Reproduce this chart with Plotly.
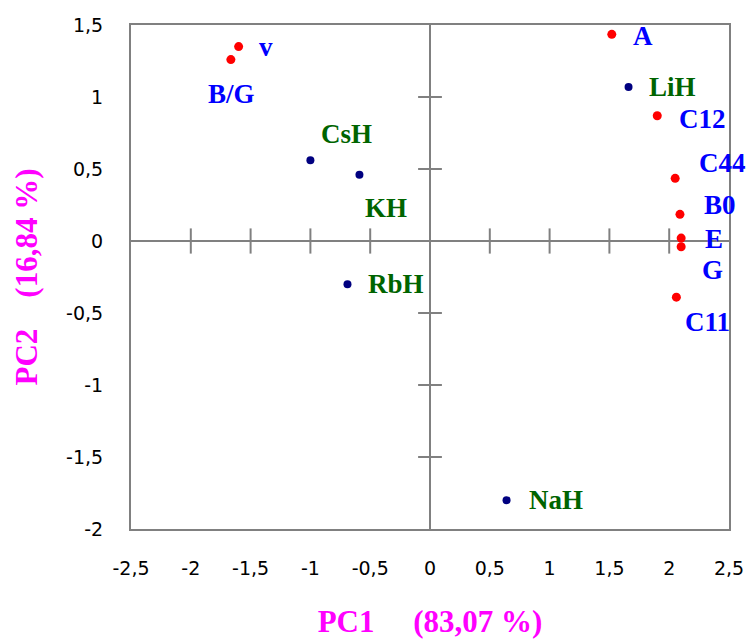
import plotly.graph_objects as go

# PCA scores: elastic / structural parameters (red) and hydrides (navy)
param_names = ["v", "B/G", "A", "C12", "C44", "B0", "E", "G", "C11"]
param_pc1 = [-1.60, -1.665, 1.52, 1.90, 2.05, 2.09, 2.10, 2.10, 2.06]
param_pc2 = [1.35, 1.26, 1.435, 0.87, 0.435, 0.185, 0.02, -0.04, -0.39]

hydride_names = ["CsH", "KH", "RbH", "LiH", "NaH"]
hydride_pc1 = [-1.00, -0.59, -0.69, 1.66, 0.64]
hydride_pc2 = [0.56, 0.46, -0.30, 1.07, -1.80]

x_ticks = [-2.5, -2, -1.5, -1, -0.5, 0, 0.5, 1, 1.5, 2, 2.5]
x_tick_text = ["-2,5", "-2", "-1,5", "-1", "-0,5", "0", "0,5", "1", "1,5", "2", "2,5"]
y_ticks = [-2, -1.5, -1, -0.5, 0, 0.5, 1, 1.5]
y_tick_text = ["-2", "-1,5", "-1", "-0,5", "0", "0,5", "1", "1,5"]

x_title = "PC1" + "\u00a0" * 5 + "(83,07 %)"
y_title = "PC2" + "\u00a0" * 4 + "(16,84 %)"

# label offsets in pixels (dx right, dy down) relative to each point
param_offsets = {"v": (27, 0), "B/G": (1, 34), "A": (31, 2), "C12": (45, 3),
                 "C44": (47, -15), "B0": (40, -9), "E": (33, 1), "G": (31, 23),
                 "C11": (31, 25)}
hydride_offsets = {"CsH": (36, -26), "KH": (27, 33), "RbH": (49, 0),
                   "LiH": (44, 0), "NaH": (49, 0)}

AXIS_GREY = "#808080"
LABEL_FONT = "Liberation Serif"

fig = go.Figure()

# tick marks crossing the zero lines
x_inner = [t for t in x_ticks if abs(t) not in (0, 2.5)]
fig.add_trace(go.Scatter(
    x=x_inner, y=[0] * len(x_inner),
    mode="markers", hoverinfo="skip", showlegend=False,
    marker=dict(symbol="line-ns-open", size=18, color=AXIS_GREY,
                line=dict(color=AXIS_GREY, width=2)),
))
y_inner = [t for t in y_ticks if t not in (0, 1.5, -2)]
fig.add_trace(go.Scatter(
    x=[0] * len(y_inner), y=y_inner,
    mode="markers", hoverinfo="skip", showlegend=False,
    marker=dict(symbol="line-ew-open", size=17, color=AXIS_GREY,
                line=dict(color=AXIS_GREY, width=2)),
))

fig.add_trace(go.Scatter(
    x=param_pc1, y=param_pc2, mode="markers", showlegend=False,
    marker=dict(color="#FF0000", size=9), cliponaxis=False,
))
fig.add_trace(go.Scatter(
    x=hydride_pc1, y=hydride_pc2, mode="markers", showlegend=False,
    marker=dict(color="#000080", size=8), cliponaxis=False,
))

annotations = []
for name, px, py in zip(param_names, param_pc1, param_pc2):
    dx, dy = param_offsets[name]
    annotations.append(dict(
        x=px, y=py, xref="x", yref="y", text=name, showarrow=False,
        xshift=dx, yshift=-dy, xanchor="center", yanchor="middle",
        font=dict(family=LABEL_FONT, size=27, color="#0000FF", weight="bold"),
    ))
for name, px, py in zip(hydride_names, hydride_pc1, hydride_pc2):
    dx, dy = hydride_offsets[name]
    annotations.append(dict(
        x=px, y=py, xref="x", yref="y", text=name, showarrow=False,
        xshift=dx, yshift=-dy, xanchor="center", yanchor="middle",
        font=dict(family=LABEL_FONT, size=27, color="#006400", weight="bold"),
    ))

fig.update_layout(
    width=751, height=642,
    margin=dict(l=131, r=22, t=25, b=113),
    paper_bgcolor="white", plot_bgcolor="white",
    separators=", ",
    annotations=annotations,
    showlegend=False,
)

tick_font = dict(family="DejaVu Sans", size=19, color="black")
title_font = dict(family=LABEL_FONT, size=31, color="#FF00FF", weight="bold")

fig.update_xaxes(
    range=[-2.5, 2.5], tickvals=x_ticks, ticktext=x_tick_text,
    showgrid=False, zeroline=True, zerolinecolor=AXIS_GREY, zerolinewidth=2,
    showline=True, linecolor=AXIS_GREY, linewidth=2, mirror=True,
    ticks="", tickfont=tick_font, ticklabelstandoff=21, automargin=False,
    title=dict(text=x_title, font=title_font, standoff=33),
)
fig.update_yaxes(
    range=[-2, 1.5], tickvals=y_ticks, ticktext=y_tick_text,
    showgrid=False, zeroline=True, zerolinecolor=AXIS_GREY, zerolinewidth=2,
    showline=True, linecolor=AXIS_GREY, linewidth=2, mirror=True,
    ticks="", tickfont=tick_font, ticklabelstandoff=22, automargin=False,
    title=dict(text=y_title, font=title_font, standoff=19),
)

fig.write_html("out.html")
